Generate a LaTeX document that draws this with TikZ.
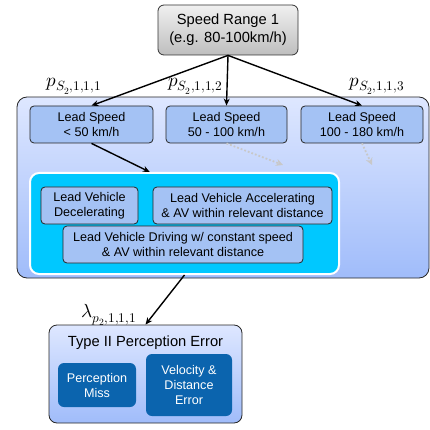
\documentclass[tikz,border=0pt]{standalone}
\usepackage{amsmath}
\usepackage{fontspec}
\usepackage{unicode-math}
\setmainfont{Liberation Sans}
\setmathfont{Latin Modern Math}
\usetikzlibrary{arrows.meta}
\definecolor{grtop}{RGB}{240,240,240}
\definecolor{grbot}{RGB}{190,190,190}
\definecolor{bltop}{RGB}{222,231,255}
\definecolor{blbot}{RGB}{160,188,250}
\definecolor{lsfill}{RGB}{164,194,244}
\definecolor{cyanfill}{RGB}{0,200,255}
\definecolor{darkfill}{RGB}{11,100,174}
\definecolor{dotgray}{RGB}{200,200,200}
\begin{document}
\begin{tikzpicture}[x=1pt,y=-1pt]
        \tikzstyle{every node} = [rectangle, align=center, inner sep=0pt, font=\fontsize{12.6}{15}\selectfont]
        \tikzstyle{box} = [draw=black!85, fill=lsfill, rounded corners=4pt, line width=0.8pt, minimum height=37pt]
        \tikzstyle{errbox} = [fill=darkfill, text=white, rounded corners=6pt]
        \tikzstyle{lbl} = [font=\fontsize{19}{22}\selectfont]
        \tikzstyle{arr} = [-{Stealth[length=7pt,width=6pt]}, line width=1.4pt]
        \useasboundingbox (0,0) rectangle (430,430);
        \node[draw=black!80, top color=grtop, bottom color=grbot, rounded corners=6pt, line width=0.8pt,
              minimum width=140pt, minimum height=50pt, font=\fontsize{14.7}{18}\selectfont]
              (range) at (228,30) {Speed Range 1\\(e.g. 80-100km/h)};
        \node[draw=black!85, top color=bltop, bottom color=blbot, rounded corners=10pt, line width=0.8pt,
              minimum width=412pt, minimum height=181pt] (scen) at (223,187.5) {};
        \node[box, minimum width=123pt] (ls1) at (91.5,124.5) {Lead Speed\\< 50 km/h};
        \node[box, minimum width=121pt] (ls2) at (226.5,124.5) {Lead Speed\\50 - 100 km/h};
        \node[box, minimum width=122pt] (ls3) at (362,124.5) {Lead Speed\\100 - 180 km/h};
        \node[draw=white, fill=cyanfill, line width=2pt, rounded corners=9pt,
              minimum width=309pt, minimum height=101pt] (cyan) at (184.5,223.5) {};
        \node[box, minimum width=97pt] (dec) at (89.5,205.5) {Lead Vehicle\\Decelerating};
        \node[box, minimum width=179pt] (acc) at (242.5,205.5) {Lead Vehicle Accelerating\\\& AV within relevant distance};
        \node[box, minimum width=240pt] (const) at (183,244.5) {Lead Vehicle Driving w/ constant speed\\\& AV within relevant distance};
        \node[draw=black!85, top color=bltop, bottom color=blbot, rounded corners=8pt, line width=0.8pt,
              minimum width=193pt, minimum height=98pt] (err) at (145.5,374) {};
        \node[font=\fontsize{14.7}{18}\selectfont] (errt) at (145.5,343) {Type II Perception Error};
        \node[errbox, minimum width=78pt, minimum height=44pt] (miss) at (97,385) {Perception\\Miss};
        \node[errbox, minimum width=86pt, minimum height=62pt] (vel) at (189,385) {Velocity \&\\Distance\\Error};
        \node[lbl] (p1) at (74,86) {$p_{S_2,1,1,1}$};
        \node[lbl] (p2) at (195.5,86) {$p_{S_2,1,1,2}$};
        \node[lbl] (p3) at (377,86) {$p_{S_2,1,1,3}$};
        \node[lbl] (lam) at (109,315) {$\lambda_{p_2,1,1,1}$};
        \coordinate (d2) at (283,165);
        \coordinate (d3) at (372,165);
        \foreach \to in {ls1, ls2, ls3}
            \draw[arr] (range.south) -- (\to.north);
        \draw[arr] (ls1.south) -- (cyan.124);
        \draw[arr] (cyan.south) -- (err.north);
        \foreach \from/\to in {ls2/d2, ls3/d3}
            \draw[-{Stealth[length=7pt,width=7pt]}, dotgray, line width=1.8pt, dotted] (\from.south) -- (\to);
\end{tikzpicture}
\end{document}
